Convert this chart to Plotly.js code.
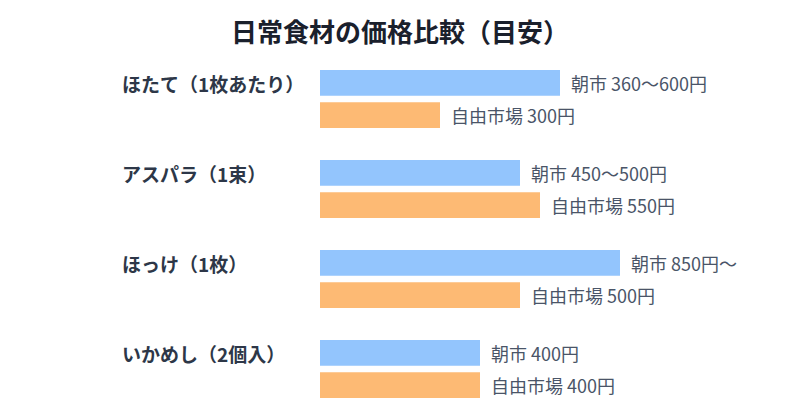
<!DOCTYPE html>
<html>
<head>
<meta charset="utf-8">
<script src="https://cdn.plot.ly/plotly-3.0.1.min.js"></script>
<style>html,body{margin:0;padding:0;background:#fff;}#chart{width:800px;height:420px;}</style>
</head>
<body>
<div id="chart"></div>
<script>
const categories = ['ほたて（1枚あたり）', 'アスパラ（1束）', 'ほっけ（1枚）', 'いかめし（2個入）'];
const seriesNames = ['朝市', '自由市場'];
const asaichiValues = [600, 500, 750, 400];
const jiyuValues = [300, 550, 500, 400];
const asaichiLabels = ['360〜600円', '450〜500円', '850円〜', '400円'];
const jiyuLabels = ['300円', '550円', '500円', '400円'];

const FONT = '"Noto Sans CJK JP", "Noto Sans", sans-serif';
const pad = '\u00A0\u00A0';

function makeTrace(name, values, labels, color) {
  return {
    type: 'bar',
    orientation: 'h',
    name: name,
    y: categories,
    x: values,
    text: labels.map(l => pad + name + ' ' + l),
    textposition: 'outside',
    cliponaxis: false,
    constraintext: 'none',
    textfont: {family: FONT, size: 18, color: '#4a5568'},
    marker: {color: color},
    hoverinfo: 'skip'
  };
}

const data = [
  makeTrace(seriesNames[0], asaichiValues, asaichiLabels, '#93c5fd'),
  makeTrace(seriesNames[1], jiyuValues, jiyuLabels, '#fdba74')
];

const annotations = categories.map(c => ({
  xref: 'paper', yref: 'y',
  x: -0.4167, y: c,
  xanchor: 'left', yanchor: 'middle',
  yshift: 16,
  text: c,
  showarrow: false,
  font: {family: FONT, size: 19, color: '#2d3748', weight: 'bold'}
}));

const layout = {
  width: 800, height: 420,
  margin: {l: 320, r: 0, t: 54, b: 6},
  paper_bgcolor: '#ffffff',
  plot_bgcolor: '#ffffff',
  showlegend: false,
  barmode: 'group',
  bargap: 0.284,
  bargroupgap: 0.2,
  title: {
    text: '日常食材の価格比較（目安）',
    x: 0.5, xref: 'container', xanchor: 'center',
    y: 0.921, yref: 'container', yanchor: 'middle',
    font: {family: FONT, size: 26, color: '#1a202c', weight: 'bold'}
  },
  xaxis: {range: [0, 1200], showgrid: false, zeroline: false, showticklabels: false, showline: false, fixedrange: true},
  yaxis: {type: 'category', autorange: 'reversed', showgrid: false, zeroline: false, showticklabels: false, showline: false, fixedrange: true},
  annotations: annotations
};

Plotly.newPlot('chart', data, layout, {displayModeBar: false, staticPlot: true});
</script>
</body>
</html>
